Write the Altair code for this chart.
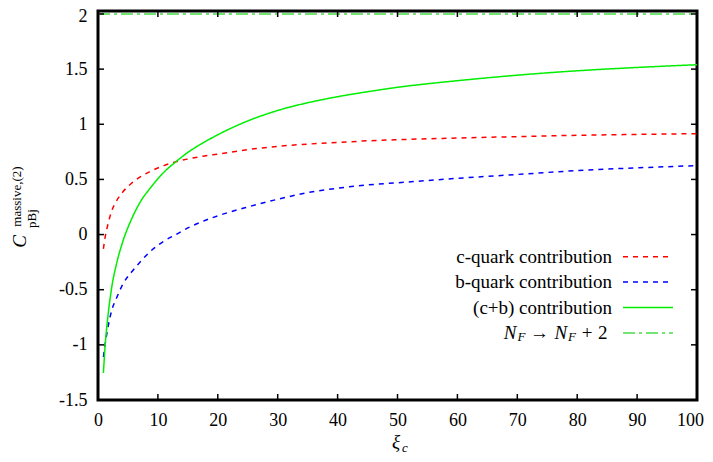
import altair as alt
import pandas as pd

# ---- data ----
xi = [0.9, 1.2, 1.6, 2.3, 3.1, 4.2, 5.6, 7, 9, 11, 13, 15, 17.5, 20, 25, 30, 35, 40, 45, 50, 60, 70, 80, 90, 100]
c_quark = [-0.13, -0.02, 0.08, 0.216, 0.306, 0.39, 0.465, 0.52, 0.58, 0.625, 0.66, 0.685, 0.71, 0.73,
           0.77, 0.80, 0.82, 0.835, 0.85, 0.86, 0.875, 0.888, 0.90, 0.908, 0.915]
b_quark = [-1.11, -0.99, -0.86, -0.685, -0.575, -0.445, -0.34, -0.25, -0.14, -0.06, 0.0, 0.06, 0.12, 0.17,
           0.25, 0.32, 0.38, 0.42, 0.45, 0.47, 0.51, 0.545, 0.58, 0.605, 0.625]
cb_total = [-1.255, -1.0, -0.77, -0.475, -0.264, -0.054, 0.14, 0.29, 0.44, 0.565, 0.66, 0.745, 0.83, 0.905,
            1.03, 1.125, 1.195, 1.25, 1.295, 1.335, 1.395, 1.445, 1.485, 1.515, 1.54]
nf_xi = [0, 100]
nf_val = [2, 2]

series_names = ["c-quark contribution", "b-quark contribution", "(c+b) contribution", "N_F -> N_F + 2"]
series_colors = ["#ff0000", "#0000ff", "#00ee00", "#44dd44"]
series_dash = [[5, 5], [5, 5], [1, 0], [12, 4, 3, 4]]

x_ticks = list(range(0, 101, 10))
y_ticks = [-1.5, -1, -0.5, 0, 0.5, 1, 1.5, 2]

# ---- layout ----
W, H = 599, 389
FONT = "Liberation Serif"

rows = []
for name, xs_, ys_ in zip(series_names, [xi, xi, xi, nf_xi], [c_quark, b_quark, cb_total, nf_val]):
    for a, b in zip(xs_, ys_):
        rows.append({"series": name, "xi": a, "val": b})
df = pd.DataFrame(rows)

xs = alt.Scale(domain=[0, 100], nice=False, zero=False)
ys = alt.Scale(domain=[-1.5, 2.027], nice=False, zero=False)

xaxis = alt.Axis(values=x_ticks, title=None, ticks=False, domain=False, grid=False,
                 labelFont=FONT, labelFontSize=18, labelColor="black", labelPadding=11,
                 labelFlush=False, labelOverlap=False,
                 labelOffset={"condition": {"test": "datum.value == 100", "value": -7}, "value": 0})
yaxis = alt.Axis(values=y_ticks, title=None, ticks=False, domain=False, grid=False,
                 labelFont=FONT, labelFontSize=18, labelColor="black", labelPadding=11,
                 labelExpr="toString(datum.value)", labelOverlap=False,
                 labelOffset={"condition": {"test": "datum.value == 2", "value": 3}, "value": 0})

lines = alt.Chart(df).mark_line(strokeWidth=1.5, interpolate="monotone").encode(
    x=alt.X("xi:Q", scale=xs, axis=xaxis),
    y=alt.Y("val:Q", scale=ys, axis=yaxis),
    color=alt.Color("series:N", scale=alt.Scale(domain=series_names, range=series_colors), legend=None),
    strokeDash=alt.StrokeDash("series:N", scale=alt.Scale(domain=series_names, range=series_dash), legend=None),
    order=alt.Order("xi:Q"),
)

xt = pd.DataFrame({"xi": x_ticks})
yt = pd.DataFrame({"val": y_ticks})
TL = 6
tick_layers = [
    alt.Chart(xt).mark_rule(color="black", strokeWidth=1.5).encode(
        x=alt.X("xi:Q", scale=xs, axis=xaxis), y=alt.value(H), y2=alt.value(H - TL)),
    alt.Chart(xt).mark_rule(color="black", strokeWidth=1.5).encode(
        x=alt.X("xi:Q", scale=xs, axis=xaxis), y=alt.value(0), y2=alt.value(TL)),
    alt.Chart(yt).mark_rule(color="black", strokeWidth=1.5).encode(
        y=alt.Y("val:Q", scale=ys, axis=yaxis), x=alt.value(0), x2=alt.value(TL)),
    alt.Chart(yt).mark_rule(color="black", strokeWidth=1.5).encode(
        y=alt.Y("val:Q", scale=ys, axis=yaxis), x=alt.value(W - TL), x2=alt.value(W)),
]


def piece(t, px, py, size, italic=False, angle=0, align="center", baseline="middle"):
    kw = dict(font=FONT, fontSize=size, color="black", align=align, baseline=baseline)
    if italic:
        kw["fontStyle"] = "italic"
    enc = dict(text="t:N", x=alt.value(px), y=alt.value(py))
    if angle:
        kw["angle"] = angle
    return alt.Chart(pd.DataFrame({"t": [t]})).mark_text(**kw).encode(**enc)


# legend (positions relative to the plot area's top-left corner)
leg_y0, leg_dy = 245.7, 25.4
legend_layers = []
for i in range(4):
    py = leg_y0 + leg_dy * i
    if i < 3:
        legend_layers.append(piece(series_names[i], 514, py, 19, align="right"))
    legend_layers.append(
        alt.Chart(pd.DataFrame({"t": [series_names[i]]})).mark_rule(
            color=series_colors[i], strokeDash=series_dash[i], strokeWidth=1.5).encode(
            x=alt.value(525), x2=alt.value(575), y=alt.value(py)))

ny = leg_y0 + leg_dy * 3
nf_layers = [
    piece("N", 412, ny, 19, italic=True),
    piece("F", 423.5, ny + 4, 13, italic=True),
    piece("\u2192", 441.6, ny, 19),
    piece("N", 462.9, ny, 19, italic=True),
    piece("F", 474, ny + 4, 13, italic=True),
    piece("+", 489.2, ny, 19),
    piece("2", 504.7, ny, 19),
]

title_layers = [
    piece("C", -78.4, 230.5, 19, italic=True, angle=270),
    piece("massive,(2)", -81.5, 185.5, 13, angle=270),
    piece("pBj", -66.5, 207.5, 13, angle=270),
    piece("\u03be", 298, 431, 19, italic=True),
    piece("c", 307, 437, 13, italic=True),
]

chart = alt.layer(lines, *tick_layers, *legend_layers, *nf_layers, *title_layers).properties(
    width=W, height=H,
    background="white",
    autosize=alt.AutoSizeParams(type="none"),
    padding={"left": 90, "top": 3, "right": 8, "bottom": 54},
).configure_view(stroke="black", strokeWidth=3)

chart.save("out.html", embed_options={"renderer": "svg", "actions": False})
